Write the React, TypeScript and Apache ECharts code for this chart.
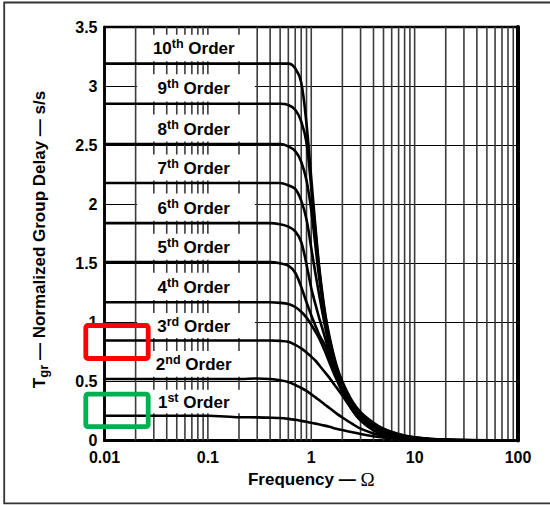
import React, { useEffect, useRef } from 'react';
import * as echarts from 'echarts';

// ---------- data ----------
const FREQ = [0.01, 0.1, 0.2, 0.3, 0.4, 0.5, 0.6, 0.7, 0.8, 0.9, 1.0, 1.1, 1.2, 1.35, 1.5, 1.75, 2, 2.5, 3, 4, 5, 7, 10, 20, 100];

const ORDER_1 = [0.21, 0.21, 0.197, 0.196, 0.193, 0.19, 0.183, 0.175, 0.166, 0.158, 0.15, 0.143, 0.136, 0.126, 0.116, 0.1, 0.088, 0.07, 0.055, 0.036, 0.025, 0.014, 0.007, 0.002, 0.0001];
const ORDER_2 = [0.52, 0.52, 0.52, 0.525, 0.52, 0.51, 0.495, 0.47, 0.445, 0.42, 0.39, 0.365, 0.34, 0.305, 0.275, 0.23, 0.195, 0.14, 0.1, 0.06, 0.04, 0.02, 0.01, 0.0025, 0.0001];
const ORDER_3 = [0.847, 0.847, 0.847, 0.847, 0.847, 0.843, 0.835, 0.81, 0.78, 0.745, 0.71, 0.675, 0.635, 0.58, 0.53, 0.45, 0.38, 0.26, 0.17, 0.085, 0.05, 0.024, 0.012, 0.003, 0.0001];
const ORDER_4 = [1.17, 1.17, 1.17, 1.17, 1.17, 1.165, 1.155, 1.13, 1.09, 1.04, 0.98, 0.92, 0.86, 0.76, 0.66, 0.52, 0.41, 0.26, 0.17, 0.09, 0.06, 0.028, 0.014, 0.0035, 0.0001];
const ORDER_5 = [1.51, 1.51, 1.51, 1.51, 1.51, 1.5, 1.48, 1.42, 1.3, 1.17, 1.06, 0.97, 0.89, 0.81, 0.7, 0.535, 0.415, 0.255, 0.175, 0.1, 0.062, 0.032, 0.016, 0.004, 0.0002];
const ORDER_6 = [1.84, 1.84, 1.84, 1.84, 1.84, 1.83, 1.81, 1.77, 1.68, 1.49, 1.29, 1.15, 1.03, 0.88, 0.74, 0.55, 0.42, 0.26, 0.18, 0.105, 0.066, 0.036, 0.018, 0.0045, 0.0002];
const ORDER_7 = [2.18, 2.18, 2.18, 2.18, 2.18, 2.18, 2.16, 2.13, 2.03, 1.87, 1.63, 1.41, 1.22, 0.98, 0.79, 0.58, 0.44, 0.27, 0.19, 0.112, 0.07, 0.04, 0.02, 0.005, 0.0002];
const ORDER_8 = [2.51, 2.51, 2.51, 2.51, 2.51, 2.51, 2.49, 2.45, 2.36, 2.2, 1.95, 1.64, 1.36, 1.05, 0.83, 0.6, 0.46, 0.29, 0.2, 0.12, 0.08, 0.045, 0.022, 0.0055, 0.0003];
const ORDER_9 = [2.85, 2.85, 2.85, 2.85, 2.85, 2.85, 2.84, 2.8, 2.7, 2.52, 2.14, 1.76, 1.43, 1.08, 0.86, 0.62, 0.48, 0.31, 0.22, 0.135, 0.09, 0.05, 0.025, 0.006, 0.0003];
const ORDER_10 = [3.19, 3.19, 3.19, 3.19, 3.19, 3.19, 3.19, 3.15, 3.03, 2.68, 2.22, 1.8, 1.45, 1.1, 0.88, 0.64, 0.5, 0.33, 0.24, 0.15, 0.1, 0.055, 0.028, 0.007, 0.0003];

const ORDERS = [ORDER_1, ORDER_2, ORDER_3, ORDER_4, ORDER_5, ORDER_6, ORDER_7, ORDER_8, ORDER_9, ORDER_10];
const ORDER_NUM = ['1', '2', '3', '4', '5', '6', '7', '8', '9', '10'];
const ORDER_SUFFIX = ['st', 'nd', 'rd', 'th', 'th', 'th', 'th', 'th', 'th', 'th'];

// log-grid vertical lines (2..9 of each decade plus decade lines)
const GRID_FREQS = [
  0.02, 0.03, 0.04, 0.05, 0.06, 0.07, 0.08, 0.09,
  0.1, 0.2, 0.3, 0.4, 0.5, 0.6, 0.7, 0.8, 0.9,
  1, 2, 3, 4, 5, 6, 7, 8, 9,
  10, 20, 30, 40, 50, 60, 70, 80, 90,
];

const Y_MIN = 0;
const Y_MAX = 3.5;
const Y_STEP = 0.5;
const X_MIN = 0.01;
const X_MAX = 100;

const X_TITLE = 'Frequency — {o|Ω}';
const Y_TITLE = '{t|T}{s|gr}{t| — Normalized Group Delay — s/s}';

// ---------- style constants ----------
const FONT = '"Liberation Sans", Arial, Helvetica, sans-serif';
const BOX_X0 = 0.0207;
const BOX_X1 = 0.285;
const LABEL_X = 0.073;
const LABEL_DY = 1;
const BOX_GAP_TOP = 0.09;
const BOX_GAP_TOP_FRAME = 0.065;
const BOX_GAP_BOTTOM = 0.02;

export default function App() {
  const ref = useRef<HTMLDivElement>(null);

  useEffect(() => {
    if (!ref.current) return;
    const chart = echarts.init(ref.current, undefined, { renderer: 'svg' });

    const levels = ORDERS.map((o) => o[0]);
    const boxData = levels.map((lvl, i) => {
      const top = i === levels.length - 1 ? Y_MAX - BOX_GAP_TOP_FRAME : levels[i + 1] - BOX_GAP_TOP;
      const bottom = lvl + BOX_GAP_BOTTOM;
      return [BOX_X0, top, bottom, i];
    });

    const lineSeries = ORDERS.map((vals, i) => ({
      type: 'line',
      name: `${ORDER_NUM[i]}${ORDER_SUFFIX[i]} Order`,
      data: FREQ.map((f, j) => [f, vals[j]]),
      showSymbol: false,
      symbol: 'none',
      smooth: 0.3,
      lineStyle: { color: '#000', width: 2.6 },
      z: 5,
      silent: true,
    }));

    const option: any = {
      animation: false,
      backgroundColor: '#fff',
      grid: {
        left: 104.5,
        top: 27,
        width: 413.5,
        height: 413.5,
        show: true,
        borderColor: '#000',
        borderWidth: 2.5,
        backgroundColor: 'transparent',
      },
      xAxis: {
        type: 'log',
        logBase: 10,
        min: X_MIN,
        max: X_MAX,
        axisLine: { show: true, onZero: false, lineStyle: { color: '#000', width: 3 } },
        axisTick: { show: false },
        splitLine: { show: false },
        axisLabel: {
          color: '#000',
          fontFamily: FONT,
          fontWeight: 'bold',
          fontSize: 16,
          lineHeight: 16,
          margin: 9,
          formatter: (v: number) => String(Number(v.toPrecision(6))),
        },
        name: X_TITLE,
        nameLocation: 'middle',
        nameGap: 29,
        nameTextStyle: {
          color: '#000',
          fontFamily: FONT,
          fontWeight: 'bold',
          fontSize: 17,
          rich: {
            o: { fontFamily: '"Liberation Serif", "Times New Roman", serif', fontWeight: 'normal', fontSize: 19, color: '#000' },
          },
        },
      },
      yAxis: [
        {
          type: 'value',
          min: Y_MIN,
          max: Y_MAX,
          interval: Y_STEP,
          axisLine: { show: true, onZero: false, lineStyle: { color: '#000', width: 2.5 } },
          axisTick: { show: false },
          splitLine: { show: true, lineStyle: { color: '#000', width: 1 } },
          axisLabel: {
            color: '#000',
            fontFamily: FONT,
            fontWeight: 'bold',
            fontSize: 16,
            lineHeight: 14,
            margin: 7,
          },
        },
        {
          type: 'value',
          min: Y_MIN,
          max: Y_MAX,
          interval: Y_STEP,
          position: 'right',
          axisLine: { show: true, onZero: false, lineStyle: { color: '#000', width: 4 } },
          axisTick: { show: false },
          axisLabel: { show: false },
          splitLine: { show: false },
        },
      ],
      series: [
        {
          type: 'custom',
          z: 1,
          silent: true,
          data: GRID_FREQS.map((f) => [f, Y_MIN]),
          encode: { x: 0, y: 1 },
          renderItem: (params: any, api: any) => {
            const f = api.value(0);
            const p1 = api.coord([f, Y_MIN]);
            const p2 = api.coord([f, Y_MAX]);
            return {
              type: 'line',
              shape: { x1: p1[0], y1: p1[1], x2: p2[0], y2: p2[1] },
              style: { stroke: '#3c3c3c', lineWidth: 1.6 },
            };
          },
        },
        {
          type: 'custom',
          z: 2,
          silent: true,
          data: boxData,
          encode: { x: 0, y: 1 },
          renderItem: (params: any, api: any) => {
            const top = api.value(1);
            const bottom = api.value(2);
            const i = api.value(3);
            const p1 = api.coord([BOX_X0, top]);
            const p2 = api.coord([BOX_X1, bottom]);
            const c = api.coord([LABEL_X, (top + bottom) / 2]);
            return {
              type: 'group',
              children: [
                {
                  type: 'rect',
                  shape: { x: p1[0], y: p1[1], width: p2[0] - p1[0], height: p2[1] - p1[1] },
                  style: { fill: '#fff', stroke: null },
                },
                {
                  type: 'text',
                  x: c[0],
                  y: c[1] + LABEL_DY,
                  style: {
                    text: `{n|${ORDER_NUM[i]}}{s|${ORDER_SUFFIX[i]}}{n| Order}`,
                    align: 'center',
                    verticalAlign: 'middle',
                    rich: {
                      n: { fontFamily: FONT, fontWeight: 'bold', fontSize: 17, lineHeight: 22, fill: '#000' },
                      s: { fontFamily: FONT, fontWeight: 'bold', fontSize: 12.5, verticalAlign: 'top', fill: '#000' },
                    },
                  },
                },
              ],
            };
          },
        },
        ...lineSeries,
      ],
      graphic: [
        {
          type: 'rect',
          silent: true,
          z: 100,
          shape: { x: 4.2, y: 2.5, width: 600, height: 500.8 },
          style: { fill: 'none', stroke: '#333', lineWidth: 1.8 },
        },
        {
          type: 'rect',
          silent: true,
          z: 100,
          shape: { x: 85.8, y: 325.5, width: 62.4, height: 33, r: 2 },
          style: { fill: 'none', stroke: '#ff0000', lineWidth: 4.8 },
        },
        {
          type: 'rect',
          silent: true,
          z: 100,
          shape: { x: 85.8, y: 394.2, width: 62.4, height: 32.5, r: 2 },
          style: { fill: 'none', stroke: '#00b050', lineWidth: 4.8 },
        },
        {
          type: 'text',
          silent: true,
          z: 100,
          x: 39,
          y: 239.5,
          rotation: Math.PI / 2,
          style: {
            text: Y_TITLE,
            align: 'center',
            verticalAlign: 'middle',
            rich: {
              t: { fontFamily: FONT, fontWeight: 'bold', fontSize: 17, lineHeight: 22, fill: '#000' },
              s: { fontFamily: FONT, fontWeight: 'bold', fontSize: 13, verticalAlign: 'bottom', fill: '#000' },
            },
          },
        },
      ],
    };

    chart.setOption(option);
    return () => {
      chart.dispose();
    };
  }, []);

  return (
    <div
      ref={ref}
      style={{ position: 'fixed', left: 0, top: 0, width: 550, height: 505, background: '#fff' }}
    />
  );
}
